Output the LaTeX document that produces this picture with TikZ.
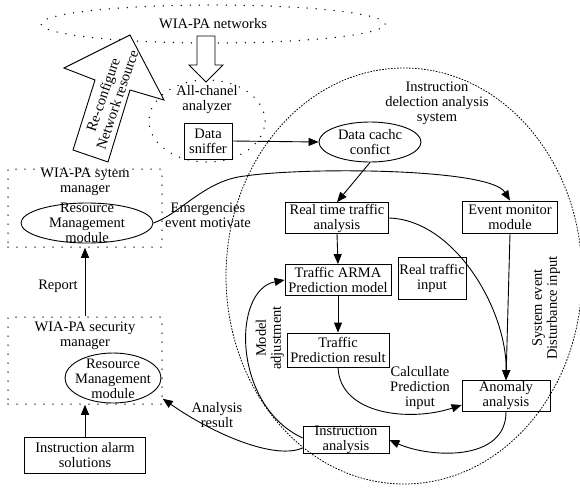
\documentclass[tikz,border=0pt]{standalone}
\usepackage{fontspec}
\setmainfont{Liberation Serif}
\usetikzlibrary{shapes.geometric,arrows.meta}
\begin{document}
\begin{tikzpicture}[x=1pt,y=-1pt,
  font=\fontsize{14.5}{15}\selectfont,
  box/.style={draw,line width=0.8pt,align=center,inner sep=1pt},
  dotline/.style={line width=1.5pt,line cap=round,dash pattern=on 0pt off 9pt},
  fine/.style={line width=0.8pt,dash pattern=on 1.6pt off 1.4pt},
  lbl/.style={align=center,inner sep=0pt},
  conn/.style={line width=0.9pt,-{Triangle[length=10pt,width=8pt]}},
  oval/.style={ellipse,draw,line width=0.9pt,inner sep=0pt},
  blockarrow/.style={line width=0.9pt,fill=white,line join=miter},
]
\useasboundingbox (0,0) rectangle (580,490);

% top network ellipse
\node[ellipse,draw,dotline,minimum width=344pt,minimum height=38pt] (net) at (213,24) {WIA-PA networks};

% big instruction detection system ellipse
\node[ellipse,draw,fine,minimum width=356pt,minimum height=416pt] (ids) at (404,276) {};
\node[lbl] (idst) at (437,103) {Instruction\\delection analysis\\system};

% all-channel analyzer
\node[ellipse,draw,dotline,minimum width=116pt,minimum height=82pt] (aca) at (207,121) {};
\node[lbl] (acat) at (207,100) {All-chanel\\analyzer};
\node[box,minimum width=48pt,minimum height=36pt] (ds) at (208,141) {Data\\sniffer};

% block arrows
\draw[blockarrow] (197,36) -- (215,36) -- (215,65) -- (223,65) -- (206,82) -- (189,65) -- (197,65) -- cycle;
\draw[blockarrow] (130,35) -- (164,100) -- (130,90) -- (108,162) -- (73,150) -- (95,80) -- (64,68) -- cycle;
\node[lbl,rotate=71] (rct) at (110,97) {Re-configure\\Network resource};

% data cache
\node[oval,minimum width=102pt,minimum height=40pt] (dc) at (370,142) {};
\node[lbl] (dct) at (370,142) {Data cachc\\confict};

% boxes inside system
\node[box,minimum width=103pt,minimum height=31pt] (rt) at (337,218) {Real time traffic\\analysis};
\node[box,minimum width=95pt,minimum height=32pt] (em) at (510,217) {Event monitor\\module};
\node[box,minimum width=106pt,minimum height=31pt] (arma) at (338,280) {Traffic ARMA\\Prediction model};
\node[box,inner sep=0.5pt,minimum width=68pt,minimum height=42pt] (rti) at (432,278) {Real traffic\\input};
\node[box,minimum width=102pt,minimum height=34pt] (tp) at (338,350) {Traffic\\Prediction result};
\node[box,minimum width=88pt,minimum height=31pt] (an) at (506,396) {Anomaly\\analysis};
\node[box,inner sep=0pt,minimum width=86pt,minimum height=27pt] (ia) at (346,440) {Instruction\\analysis};

% system manager
\node[draw,dotline,minimum width=154pt,minimum height=78pt] (sysm) at (85,208) {};
\node[lbl] (sysmt) at (85,182) {WIA-PA sytem\\manager};
\node[oval,minimum width=132pt,minimum height=40pt] (rm1) at (87,223) {};
\node[lbl] (rm1t) at (87,222.5) {Resource\\Management\\module};

% security manager
\node[draw,dotline,minimum width=154pt,minimum height=87pt] (sm) at (85,360.5) {};
\node[lbl] (smt) at (85,335.5) {WIA-PA security\\manager};
\node[oval,minimum width=96pt,minimum height=50pt] (rm2) at (113,378) {};
\node[lbl] (rm2t) at (113,379) {Resource\\Management\\module};

\node[box,minimum width=121pt,minimum height=36pt] (alarm) at (85,455) {Instruction alarm\\solutions};

% labels
\node[lbl] (lrep) at (58,286) {Report};
\node[lbl] (lemg) at (208,215.5) {Emergencies\\event motivate};
\node[lbl] (lana) at (217,415) {Analysis\\result};
\node[lbl] (lcal) at (420,388) {Calcullate\\Prediction\\input};
\node[lbl,rotate=90] (lmod) at (270,338) {Model\\adjustment};
\node[lbl,rotate=90] (lsys) at (546,308) {System event\\Disturbance input};

% connectors
\draw[conn] (ds.east) -- (dc.west);
\draw[conn] (dc.south) -- (rt.north);
\draw[conn] (rt.south) -- (arma.north);
\draw[conn] (arma.south) -- (tp.north);
\draw[conn] (em.south) -- (an.north);
\draw[conn] (rt.east) .. controls (455,220) and (507,310) .. (an.north);
\draw[conn] (tp.south) .. controls (340,415) and (410,422) .. ([yshift=-9pt]an.west);
\draw[conn] (an.south) .. controls (506,462) and (430,458) .. (ia.east);
\draw[conn] ([yshift=2pt]ia.west) .. controls (232,405) and (232,290) .. (arma.west);
\draw[conn] ([yshift=-8pt]ia.west) .. controls (275,460) and (215,435) .. ([yshift=6pt]sm.south east);
\draw[conn] (sm.north) -- (sysm.south);
\draw[conn] (alarm.north) -- (sm.south);
\draw[conn] (rm1.east) .. controls (180,214) and (205,180) .. (245,176) .. controls (305,167) and (490,168) .. (em.north);
\end{tikzpicture}
\end{document}
